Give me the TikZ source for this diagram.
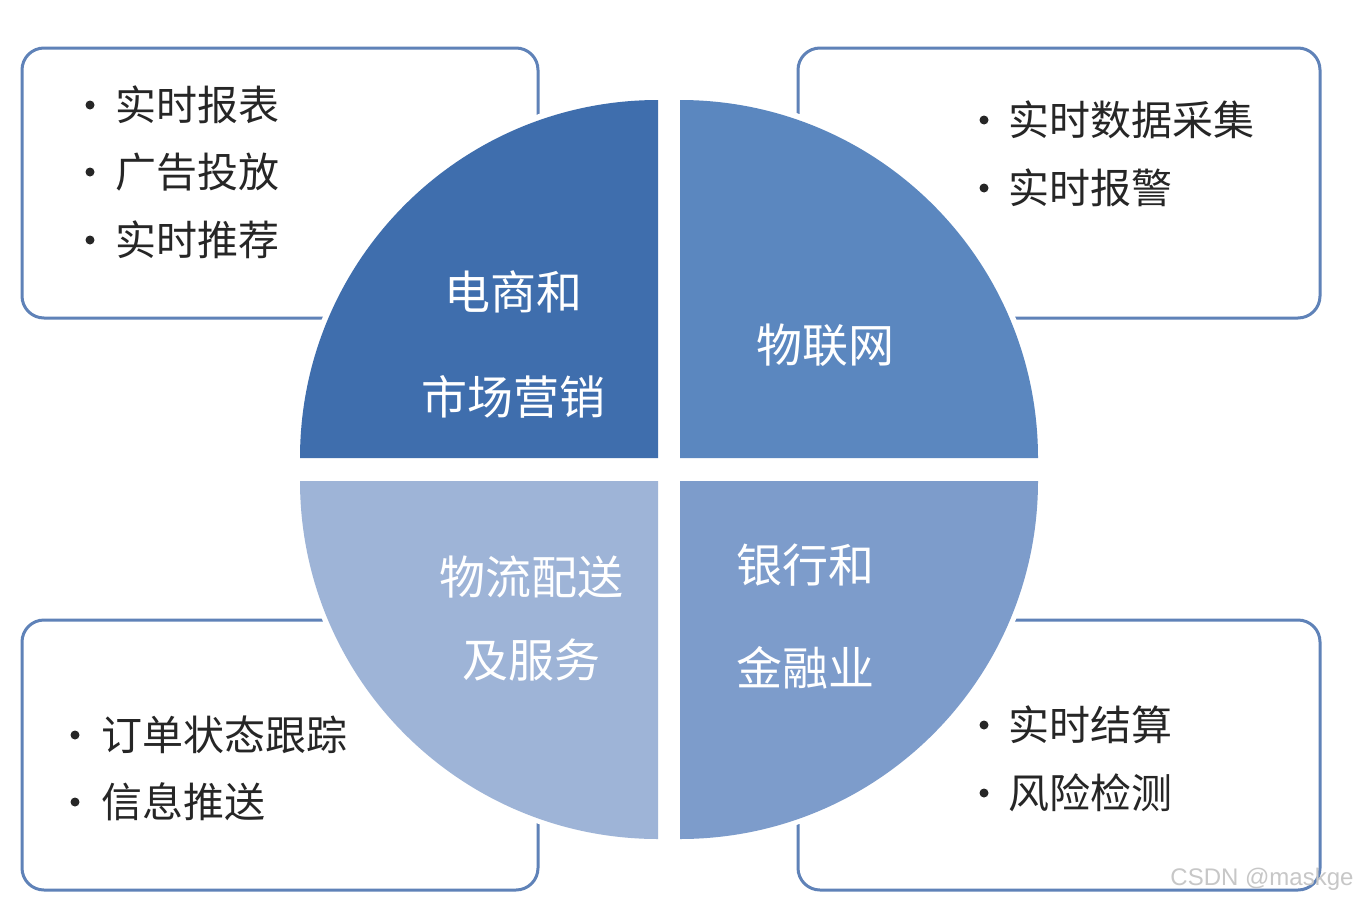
\documentclass[tikz,border=0pt]{standalone}
\usepackage{fontspec}
\newfontfamily\cjk{Noto Sans CJK SC}
\newfontfamily\lib{Liberation Sans}
\definecolor{qa}{HTML}{3F6EAD}
\definecolor{qb}{HTML}{5B87BF}
\definecolor{qc}{HTML}{9EB4D7}
\definecolor{qd}{HTML}{7D9CCB}
\definecolor{bx}{HTML}{5F82B8}
\begin{document}
\begin{tikzpicture}[x=1pt,y=-1pt,
  box/.style={draw=bx,line width=3pt,rounded corners=22pt,fill=white},
  item/.style={anchor=west,font=\cjk\fontsize{41}{44}\selectfont,text=black!85,inner sep=0pt},
  dot/.style={circle,fill=black!85,inner sep=0pt,minimum size=9pt},
  lab/.style={font=\cjk\fontsize{46}{48}\selectfont,text=white,inner sep=0pt}]
\path[use as bounding box,fill=white] (0,0) rectangle (1362,902);
\draw[box] (22,48) rectangle (538,318);
\draw[box] (798,48) rectangle (1320,318);
\draw[box] (22,620) rectangle (538,890);
\draw[box] (798,620) rectangle (1320,890);
\fill[white] (669,469) circle (378);
\fill[qa] (658,458) -- (300,458) arc[start angle=180,end angle=270,radius=358] -- cycle;
\fill[qb] (680,458) -- (680,100) arc[start angle=270,end angle=360,radius=358] -- cycle;
\fill[qc] (658,481) -- (658,839) arc[start angle=90,end angle=180,radius=358] -- cycle;
\fill[qd] (680,481) -- (1038,481) arc[start angle=0,end angle=90,radius=358] -- cycle;
\foreach \n/\bx/\tx/\y/\t in {a1/90/115/105/实时报表,a2/90/115/172/广告投放,a3/90/115/240/实时推荐,
  b1/984/1008/120/实时数据采集,b2/984/1008/188/实时报警,
  c1/75/101/735/订单状态跟踪,c2/75/101/802/信息推送,
  d1/984/1008/725/实时结算,d2/984/1008/793/风险检测}{
  \node[dot] (\n d) at (\bx,\y) {};
  \node[item] (\n) at (\tx,\y) {\t};
}
\node[lab] (l1) at (513,292) {电商和};
\node[lab] (l2) at (513,397) {市场营销};
\node[lab] (l3) at (825,345) {物联网};
\node[lab] (l4) at (531,577) {物流配送};
\node[lab] (l5) at (531,660) {及服务};
\node[lab] (l6) at (805,565) {银行和};
\node[lab] (l7) at (805,668) {金融业};
\node[font=\lib\fontsize{24}{26}\selectfont,text=black!22,inner sep=0pt] (wm) at (1262,879) {CSDN @maskge};
\end{tikzpicture}
\end{document}
